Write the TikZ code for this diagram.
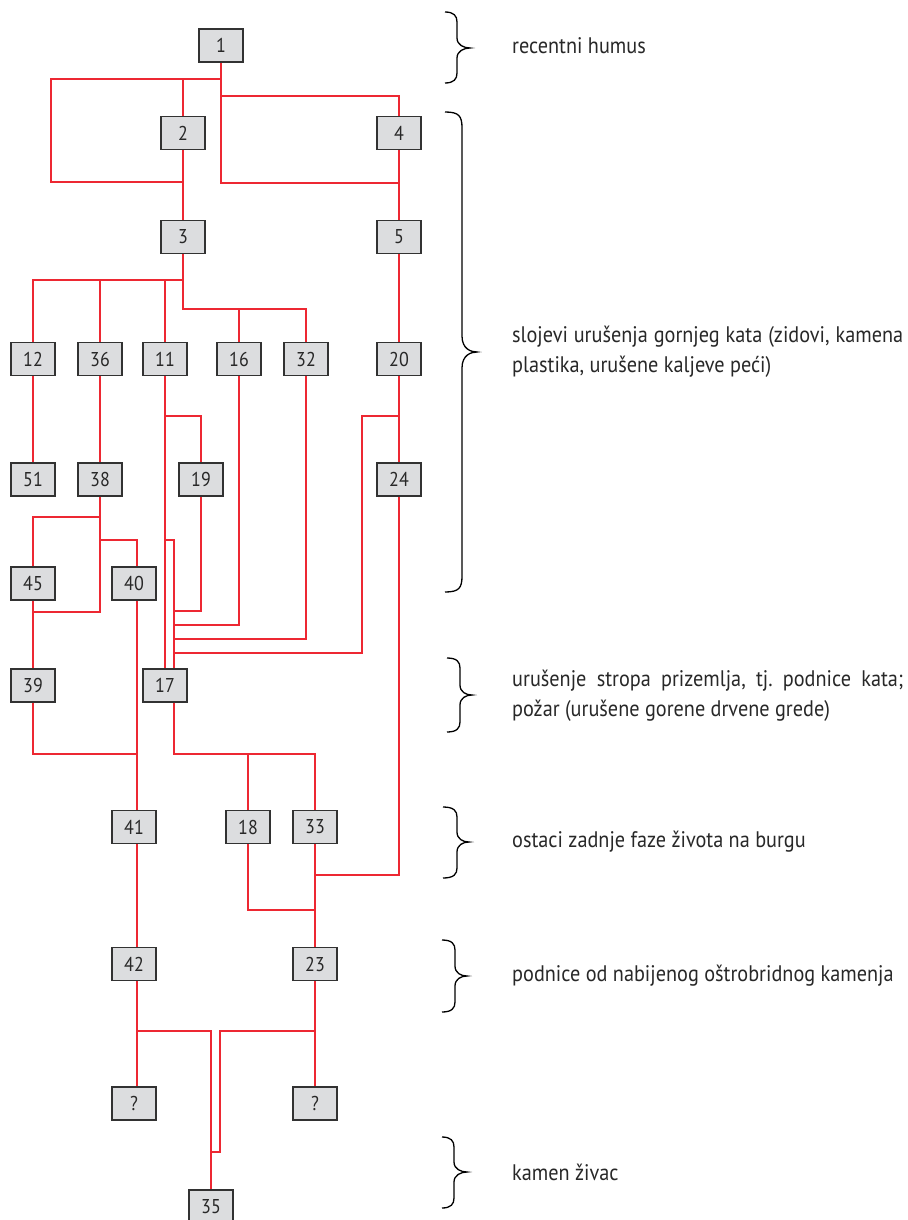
\documentclass[tikz,border=0pt]{standalone}
\usepackage{fontspec}
\setmainfont{PT Sans}
\newfontfamily\lblfont[FakeStretch=0.9]{PT Sans}
\definecolor{lred}{RGB}{237,40,50}
\definecolor{boxfill}{RGB}{220,221,223}
\definecolor{boxdraw}{RGB}{50,50,50}
\definecolor{txt}{RGB}{40,40,40}
\newcommand{\mybrace}[7]{%
  \draw[brc] (#1,#4) .. controls (#2-3,#4) and (#2,#4+4) .. (#2,#4+#7)
    -- (#2,#5-#7) .. controls (#2,#5-3) and (#3-6,#5) .. (#3,#5)
    .. controls (#3-6,#5) and (#2,#5+3) .. (#2,#5+#7)
    -- (#2,#6-#7) .. controls (#2,#6-4) and (#2-3,#6) .. (#1,#6);}
\begin{document}
\frenchspacing
\begin{tikzpicture}[x=1pt,y=-1pt,
  blk/.style={draw=boxdraw, line width=1.3pt, fill=boxfill, minimum width=44pt,
    minimum height=33pt, inner sep=0pt, text=txt, font=\lblfont\fontsize{20}{20}\selectfont},
  link/.style={draw=lred, line width=1.3pt},
  brc/.style={draw=black, line width=1.3pt},
  lbl/.style={anchor=west, inner sep=0pt, text=txt, font=\lblfont\fontsize{22.5}{30}\selectfont, align=left}]
\fill[white] (0,0) rectangle (907,1220);
\useasboundingbox (0,0) rectangle (907,1220);

% nodes
\node[blk] (n1) at (221,45.5) {1};
\node[blk] (n2) at (183,133) {2};
\node[blk] (n4) at (399,133) {4};
\node[blk] (n3) at (183,237) {3};
\node[blk] (n5) at (399,237) {5};
\node[blk] (n12) at (33,359) {12};
\node[blk] (n36) at (100,359) {36};
\node[blk] (n11) at (165,359) {11};
\node[blk] (n16) at (239,359) {16};
\node[blk] (n32) at (306,359) {32};
\node[blk] (n20) at (399,359) {20};
\node[blk] (n51) at (33,479.5) {51};
\node[blk] (n38) at (100,479.5) {38};
\node[blk] (n19) at (201,479.5) {19};
\node[blk] (n24) at (399,479.5) {24};
\node[blk] (n45) at (33,583.5) {45};
\node[blk] (n40) at (134,583.5) {40};
\node[blk] (n39) at (33,685.5) {39};
\node[blk] (n17) at (165,685.5) {17};
\node[blk] (n41) at (134,827) {41};
\node[blk] (n18) at (248,827) {18};
\node[blk] (n33) at (315,827) {33};
\node[blk] (n42) at (134,964) {42};
\node[blk] (n23) at (315,964) {23};
\node[blk] (nq1) at (134,1103.5) {?};
\node[blk] (nq2) at (315,1103.5) {?};
\node[blk] (n35) at (211,1206.5) {35};

% connectors
\draw[link] (n1.south) -- (221,183) -- (399,183);
\draw[link] (221,79) -- (51,79) -- (51,182) -- (183,182);
\draw[link] (183,79) -- (n2.north);
\draw[link] (221,96) -| (n4.north);
\draw[link] (n2.south) -- (n3.north);
\draw[link] (n4.south) -- (n5.north);
\draw[link] (n5.south) -- (n20.north);
\draw[link] (n3.south) -- (183,309) -| (n32.north);
\draw[link] (239,309) -- (n16.north);
\draw[link] (183,280) -| (n12.north);
\draw[link] (100,280) -- (n36.north);
\draw[link] (165,280) -- (n11.north);
\draw[link] (n12.south) -- (n51.north);
\draw[link] (n36.south) -- (n38.north);
\draw[link] (n11.south) -- (n17.north);
\draw[link] (165,416) -| (n19.north);
\draw[link] (165,540) -| ([xshift=9pt]n17.north);
\draw[link] (n19.south) |- (174,611);
\draw[link] (n16.south) |- (174,625);
\draw[link] (n32.south) |- (174,639);
\draw[link] (399,416) -| (362,653) -- (174,653);
\draw[link] (n20.south) -- (n24.north);
\draw[link] (n24.south) |- (315,875);
\draw[link] (n38.south) |- (33,612);
\draw[link] (100,517) -| (n45.north);
\draw[link] (100,540) -| ([xshift=3pt]n40.north);
\draw[link] (n45.south) -- (n39.north);
\draw[link] (n39.south) |- (137,754);
\draw[link] ([xshift=3pt]n40.south) -- ([xshift=3pt]n41.north);
\draw[link] ([xshift=9pt]n17.south) -- (174,754) -| (n33.north);
\draw[link] (248,754) -- (n18.north);
\draw[link] (n33.south) -- (n23.north);
\draw[link] (n18.south) |- (315,910);
\draw[link] ([xshift=3pt]n41.south) -- ([xshift=3pt]n42.north);
\draw[link] ([xshift=3pt]n42.south) -- ([xshift=3pt]nq1.north);
\draw[link] (137,1031) -| (n35.north);
\draw[link] (n23.south) -- (nq2.north);
\draw[link] (315,1031) -- (220,1031) -- (220,1152) -- (211,1152);

% braces
\mybrace{445}{457}{470}{12}{48}{83}{10}
\mybrace{445}{462}{477}{112}{352}{592}{16}
\mybrace{447}{460}{472}{658}{695}{732}{10}
\mybrace{443}{457}{469}{807}{842}{878}{10}
\mybrace{442}{455}{467}{940}{976}{1012}{10}
\mybrace{442}{454}{467}{1137}{1172}{1208}{10}

% labels
\node[lbl] (t1) at (512,46) {recentni humus};
\node[lbl, text width=391pt, align=justify] (t2) at (512,352) {\noindent slojevi urušenja gornjeg kata (zidovi, kamena\linebreak plastika, urušene kaljeve peći)};
\node[lbl, text width=391pt, align=justify] (t3) at (512,696) {\noindent urušenje stropa prizemlja, tj. podnice kata;\linebreak požar (urušene gorene drvene grede)};
\node[lbl] (t4) at (512,842) {ostaci zadnje faze života na burgu};
\node[lbl] (t5) at (512,976) {podnice od nabijenog oštrobridnog kamenja};
\node[lbl] (t6) at (512,1172) {kamen živac};
\end{tikzpicture}
\end{document}
